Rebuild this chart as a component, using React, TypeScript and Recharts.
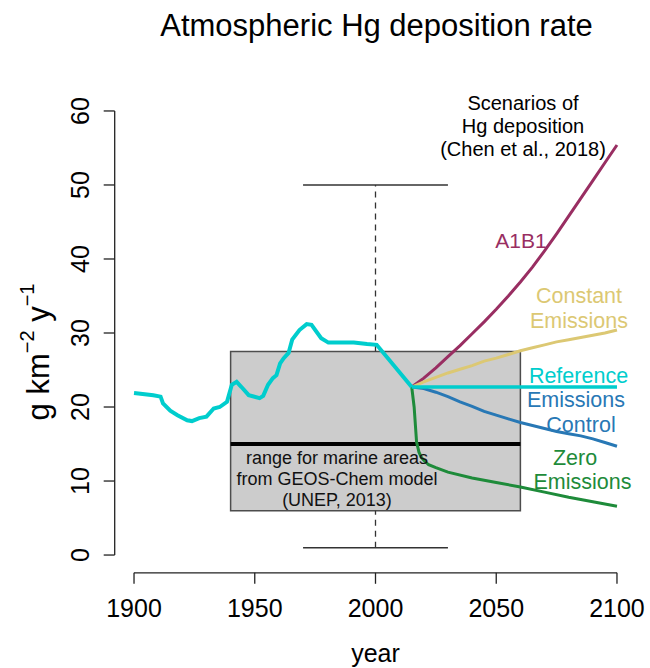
import React from 'react';
import { ComposedChart, Line, XAxis, YAxis, ReferenceArea, ReferenceLine } from 'recharts';

// Historical deposition record
const histYears = [1900, 1908, 1911, 1912, 1915, 1918, 1922, 1924, 1927, 1930, 1933, 1935.5, 1938.5, 1940.5, 1942.5, 1944.5, 1947.5, 1952, 1953.5, 1955.5, 1957.5, 1959, 1960.5, 1962, 1964, 1965.5, 1968.5, 1971.5, 1973.5, 1977.5, 1980.5, 1991, 1996.5, 2000.5, 2015];
const histDep = [21.9, 21.6, 21.4, 20.5, 19.5, 18.9, 18.2, 18.1, 18.5, 18.7, 19.8, 20.0, 20.7, 23.0, 23.4, 22.7, 21.6, 21.2, 21.5, 23.0, 23.9, 24.3, 25.9, 26.6, 27.3, 29.1, 30.4, 31.2, 31.1, 29.3, 28.7, 28.7, 28.5, 28.4, 22.7];

// Future scenarios (Chen et al., 2018)
const scenarioYears = [2015, 2020, 2025, 2030, 2035, 2040, 2045, 2050, 2055, 2060, 2065, 2070, 2075, 2080, 2085, 2090, 2095, 2100];
const a1b1 = [22.7, 23.9, 25.3, 26.8, 28.3, 29.9, 31.5, 33.2, 35.0, 36.9, 38.9, 41.1, 43.4, 45.8, 48.2, 50.6, 53.0, 55.4];
const constantEmissions = [22.7, 23.4, 24.0, 24.6, 25.1, 25.6, 26.2, 26.6, 27.1, 27.6, 28.0, 28.4, 28.8, 29.1, 29.4, 29.7, 30.0, 30.4];
const emissionsControl = [22.7, 22.5, 22.0, 21.4, 20.7, 20.1, 19.4, 18.9, 18.4, 17.9, 17.5, 17.1, 16.7, 16.4, 16.1, 15.7, 15.2, 14.7];

const zeroYears = [2015, 2016, 2017, 2018, 2019, 2020, 2022, 2025, 2030, 2040, 2050, 2060, 2070, 2080, 2090, 2100];
const zeroEmissions = [22.7, 20.0, 15.3, 13.9, 13.2, 12.8, 12.2, 11.8, 11.2, 10.4, 9.8, 9.2, 8.5, 7.8, 7.2, 6.6];

const referenceYears = [2015, 2100];
const referenceEmissions = [22.7, 22.7];

// GEOS-Chem marine range (UNEP, 2013): whisker, box, median
const marineRange = { low: 1, q1: 6, median: 15, q3: 27.5, high: 50 };
const boxYears = [1940, 2060];
const capYears = [1970, 2030];
const whiskerYear = 2000;

const xTicks = [1900, 1950, 2000, 2050, 2100];
const yTicks = [0, 10, 20, 30, 40, 50, 60];

const toRows = (years: number[], values: number[]) => years.map((year, i) => ({ year, value: values[i] }));

const FONT = '"Liberation Sans", Arial, Helvetica, sans-serif';
const C_HIST = '#00cdcd';
const C_A1B1 = '#992e62';
const C_CONST = '#dcc873';
const C_CTRL = '#2878b5';
const C_ZERO = '#1e8b3a';
const AXIS = '#222';

const XTick = (props: any) => (
  <text x={props.x} y={props.y + 29} textAnchor="middle" fontSize={25} fontFamily={FONT} fill="#000">
    {props.payload.value}
  </text>
);

const YTick = (props: any) => {
  const x = props.x - 11;
  return (
    <text x={x} y={props.y} transform={`rotate(-90, ${x}, ${props.y})`} textAnchor="middle" fontSize={25} fontFamily={FONT} fill="#000">
      {props.payload.value}
    </text>
  );
};

const Note = ({ x, y, color, size, lines }: { x: number; y: number; color: string; size: number; lines: string[] }) => (
  <text textAnchor="middle" fontSize={size} fontFamily={FONT} fill={color}>
    {lines.map((t, i) => (
      <tspan key={i} x={x} y={y + i * (size + 3)}>{t}</tspan>
    ))}
  </text>
);

export default function App() {
  const lineProps = { dataKey: 'value', dot: false, activeDot: false, isAnimationActive: false, type: 'linear' as const, legendType: 'none' as const };
  return (
    <div style={{ position: 'relative', width: 650, height: 668 }}>
      <style>{'body{margin:0}'}</style>
      <ComposedChart width={650} height={668} margin={{ top: 93.2, right: 13.7, bottom: 65.2, left: 54.7 }}>
        <XAxis
          type="number"
          dataKey="year"
          domain={[1892, 2108]}
          ticks={xTicks}
          allowDataOverflow
          axisLine={false}
          tickLine={{ stroke: AXIS, strokeWidth: 1.3 }}
          tickSize={11}
          tickMargin={4}
          tick={<XTick />}
          height={30}
        />
        <YAxis
          type="number"
          domain={[-2.4, 62.4]}
          ticks={yTicks}
          allowDataOverflow
          axisLine={false}
          tickLine={{ stroke: AXIS, strokeWidth: 1.3 }}
          tickSize={11}
          tickMargin={4}
          tick={<YTick />}
          width={60}
        />

        {/* R-style detached axis lines */}
        <ReferenceLine segment={[{ x: xTicks[0], y: -2.4 }, { x: xTicks[xTicks.length - 1], y: -2.4 }]} stroke={AXIS} strokeWidth={1.3} ifOverflow="visible" />
        <ReferenceLine segment={[{ x: 1892, y: yTicks[0] }, { x: 1892, y: yTicks[yTicks.length - 1] }]} stroke={AXIS} strokeWidth={1.3} ifOverflow="visible" />

        {/* marine range box plot */}
        <ReferenceLine segment={[{ x: whiskerYear, y: marineRange.q3 }, { x: whiskerYear, y: marineRange.high }]} stroke="#333" strokeWidth={1.3} strokeDasharray="6 5" />
        <ReferenceLine segment={[{ x: whiskerYear, y: marineRange.low }, { x: whiskerYear, y: marineRange.q1 }]} stroke="#333" strokeWidth={1.3} strokeDasharray="6 5" />
        <ReferenceLine segment={[{ x: capYears[0], y: marineRange.high }, { x: capYears[1], y: marineRange.high }]} stroke="#333" strokeWidth={1.5} />
        <ReferenceLine segment={[{ x: capYears[0], y: marineRange.low }, { x: capYears[1], y: marineRange.low }]} stroke="#333" strokeWidth={1.5} />
        <ReferenceArea x1={boxYears[0]} x2={boxYears[1]} y1={marineRange.q1} y2={marineRange.q3} fill="#cccccc" fillOpacity={1} stroke="#4d4d4d" strokeWidth={1.5} />
        <ReferenceLine segment={[{ x: boxYears[0], y: marineRange.median }, { x: boxYears[1], y: marineRange.median }]} stroke="#000" strokeWidth={4} />

        <Line {...lineProps} data={toRows(scenarioYears, a1b1)} stroke={C_A1B1} strokeWidth={3} />
        <Line {...lineProps} data={toRows(scenarioYears, constantEmissions)} stroke={C_CONST} strokeWidth={3} />
        <Line {...lineProps} data={toRows(scenarioYears, emissionsControl)} stroke={C_CTRL} strokeWidth={3} />
        <Line {...lineProps} data={toRows(zeroYears, zeroEmissions)} stroke={C_ZERO} strokeWidth={3} />
        <Line {...lineProps} data={toRows(referenceYears, referenceEmissions)} stroke={C_HIST} strokeWidth={3.5} />
        <Line {...lineProps} data={toRows(histYears, histDep)} stroke={C_HIST} strokeWidth={4} />
      </ComposedChart>

      <svg width={650} height={668} style={{ position: 'absolute', left: 0, top: 0, pointerEvents: 'none' }}>
        <text x={376.5} y={36} textAnchor="middle" fontSize={31} fontFamily={FONT} fill="#000">Atmospheric Hg deposition rate</text>
        <text x={375.5} y={662} textAnchor="middle" fontSize={25} fontFamily={FONT} fill="#000">year</text>
        <text x={49} y={352} transform="rotate(-90, 49, 352)" textAnchor="middle" fontSize={31} fontFamily={FONT} fill="#000">
          g km<tspan dy={-15} fontSize={20}>−2</tspan><tspan dy={15}> y</tspan><tspan dy={-15} fontSize={20}>−1</tspan>
        </text>

        <Note x={523} y={110} color="#000" size={20} lines={['Scenarios of', 'Hg deposition', '(Chen et al., 2018)']} />
        <Note x={521} y={248} color={C_A1B1} size={21} lines={['A1B1']} />
        <Note x={579} y={303} color={C_CONST} size={21.5} lines={['Constant', 'Emissions']} />
        <Note x={578.5} y={383} color={C_HIST} size={21.5} lines={['Reference']} />
        <Note x={576} y={407} color={C_CTRL} size={21.5} lines={['Emissions']} />
        <Note x={581} y={432} color={C_CTRL} size={21.5} lines={['Control']} />
        <Note x={575} y={465} color={C_ZERO} size={21.5} lines={['Zero']} />
        <Note x={582.5} y={489} color={C_ZERO} size={21.5} lines={['Emissions']} />
        <Note x={337} y={464} color="#111" size={18} lines={['range for marine areas', 'from GEOS-Chem model', '(UNEP, 2013)']} />
      </svg>
    </div>
  );
}
